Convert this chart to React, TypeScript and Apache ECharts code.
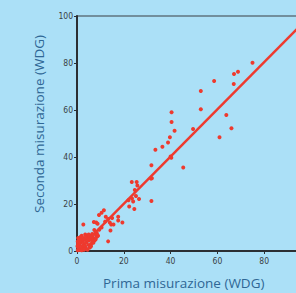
import React, { useEffect, useRef } from "react";
import * as echarts from "echarts";

const xTicks = [0, 20, 40, 60, 80];
const yTicks = [0, 20, 40, 60, 80, 100];

const xTitle = "Prima misurazione (WDG)";
const yTitle = "Seconda misurazione (WDG)";

const points: number[][] = [
  [75.0, 80.1], [68.8, 76.3], [67.1, 75.3], [67.0, 71.1], [58.6, 72.3],
  [52.9, 68.1], [52.9, 60.3], [63.8, 57.9], [66.0, 52.2], [60.9, 48.4],
  [49.6, 51.9], [40.4, 59.0], [40.4, 54.9], [41.7, 51.2], [39.7, 48.4],
  [38.9, 46.2], [36.5, 44.4], [33.5, 43.1], [45.4, 35.5], [40.3, 39.7],
  [40.0, 40.2], [31.8, 36.5], [31.6, 30.8], [32.0, 31.0], [31.8, 21.3],
  [23.4, 29.4], [25.5, 29.4], [25.8, 27.9], [24.7, 26.0], [25.2, 23.4],
  [26.5, 22.1], [23.5, 22.3], [22.0, 21.6], [24.0, 21.1], [22.3, 18.9],
  [24.5, 17.9], [11.5, 17.3], [10.5, 16.3], [9.4, 15.3], [12.3, 14.6],
  [17.6, 14.6], [17.6, 13.0], [19.4, 12.1], [14.0, 12.1], [13.3, 13.6],
  [14.6, 11.3], [15.6, 11.3], [14.3, 8.7], [13.3, 4.1], [7.2, 12.3],
  [8.2, 12.1], [8.8, 11.6], [2.7, 11.3], [8.5, 6.1], [7.4, 8.9],
  [6.5, 7.2], [8.0, 7.0], [9.5, 9.0], [10.5, 10.0], [12.0, 12.5],
  [15.0, 14.0], [3.5, 7.0], [2.0, 6.5], [1.5, 6.0], [0.5, 5.5],
  [0.3, 0.3], [0.8, 0.5], [1.2, 1.0], [0.5, 1.5], [1.5, 0.4], [2.0, 1.5],
  [1.0, 2.5], [2.5, 2.2], [3.0, 1.0], [0.4, 3.0], [1.5, 3.5], [3.0, 3.0],
  [3.5, 2.0], [4.0, 1.0], [2.5, 4.0], [0.8, 4.5], [4.0, 3.5], [3.5, 4.8],
  [5.0, 2.5], [5.0, 4.5], [4.5, 5.5], [6.0, 5.0], [5.5, 6.5], [6.5, 4.0],
  [2.0, 0.3], [3.0, 0.5], [0.2, 2.0], [4.5, 0.5], [5.5, 1.5], [6.0, 3.0],
  [7.0, 5.5], [7.5, 4.5], [2.0, 5.0], [1.0, 4.0], [3.0, 5.5], [4.0, 6.5],
  [0.3, 4.0], [6.0, 2.0], [7.0, 3.5], [8.0, 5.0], [8.5, 7.5], [9.0, 6.5],
  [6.5, 6.0], [5.0, 7.0],
];

const fitLine: number[][] = [[4.5, 4.5], [100, 100.5]];

export default function App() {
  const ref = useRef<HTMLDivElement>(null);
  useEffect(() => {
    if (!ref.current) return;
    const chart = echarts.init(ref.current, null, { renderer: "svg" });
    const tickFont = "'Liberation Sans Narrow', 'DejaVu Sans Condensed', sans-serif";
    chart.setOption({
      animation: false,
      backgroundColor: "#abe0f7",
      grid: {
        left: 77,
        right: 9,
        top: 16,
        bottom: 42,
        show: true,
        borderColor: "#3a3f44",
        borderWidth: 1.2,
        backgroundColor: "transparent",
      },
      xAxis: {
        type: "value",
        min: 0,
        max: 100,
        interval: 20,
        splitLine: { show: false },
        axisLine: { show: true, lineStyle: { color: "#2b2f33", width: 2 } },
        axisTick: { show: true, length: 3, lineStyle: { color: "#2b2f33" } },
        axisLabel: {
          color: "#3a3f44",
          fontSize: 8.5,
          fontFamily: tickFont,
          margin: 5,
          formatter: (v: number) => (xTicks.includes(v) ? String(v) : ""),
        },
      },
      yAxis: {
        type: "value",
        min: 0,
        max: 100,
        interval: 20,
        splitLine: { show: false },
        axisLine: { show: true, lineStyle: { color: "#2b2f33", width: 2 } },
        axisTick: { show: true, length: 3, lineStyle: { color: "#2b2f33" } },
        axisLabel: {
          color: "#3a3f44",
          fontSize: 8.5,
          fontFamily: tickFont,
          margin: 4,
          formatter: (v: number) => (yTicks.includes(v) ? String(v) : ""),
        },
      },
      series: [
        {
          type: "scatter",
          data: points,
          symbolSize: 4,
          itemStyle: { color: "#ee3a2e", opacity: 1 },
          z: 2,
        },
        {
          type: "line",
          data: fitLine,
          showSymbol: false,
          symbol: "none",
          lineStyle: { color: "#ee3a2e", width: 2.5 },
          z: 3,
        },
      ],
      graphic: [
        {
          type: "text",
          left: 103,
          top: 276,
          style: {
            text: xTitle,
            fill: "#2f6795",
            font: "13.5px 'Open Sans', sans-serif",
          },
        },
        {
          type: "text",
          x: 32,
          y: 124,
          rotation: Math.PI / 2,
          style: {
            text: yTitle,
            fill: "#2f6795",
            font: "13.5px 'Open Sans', sans-serif",
            align: "center",
            verticalAlign: "top",
          },
        },
      ],
    });
    return () => chart.dispose();
  }, []);
  return (
    <div
      style={{
        position: "fixed",
        left: 0,
        top: 0,
        width: 296,
        height: 293,
        overflow: "hidden",
      }}
    >
      <div ref={ref} style={{ width: 320, height: 293 }} />
    </div>
  );
}
